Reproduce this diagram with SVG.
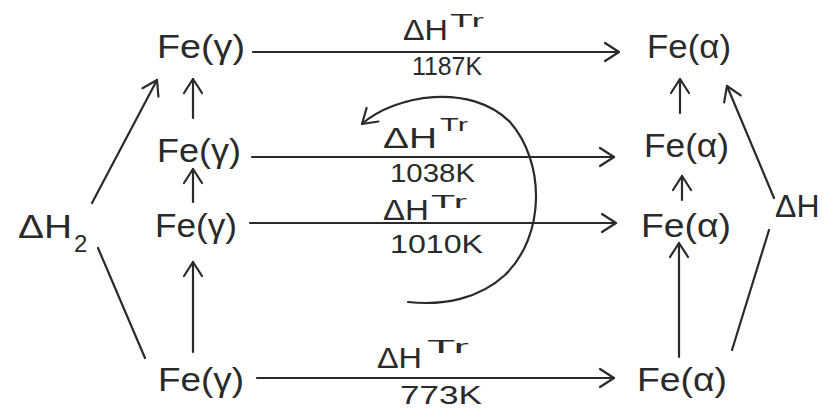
<svg xmlns="http://www.w3.org/2000/svg" width="828" height="409" viewBox="0 0 828 409">
<defs>
<marker id="ah" viewBox="-16 -11 18 22" refX="0" refY="0" markerWidth="18" markerHeight="22" markerUnits="userSpaceOnUse" orient="auto-start-reverse">
<path d="M -14 -9 L 0 0 L -14 9" fill="none" stroke="#2a2a2a" stroke-width="2.2" stroke-linecap="round" stroke-linejoin="round"/>
</marker>
<style>
.t{font-family:"Liberation Sans","DejaVu Sans",sans-serif;fill:#2a2a2a}
.sp{font-size:33px}
.dh{font-size:29px}
.sup{font-size:18px}
.k{font-size:25px}
.c{fill:none;stroke:#2a2a2a;stroke-width:2.2;stroke-linecap:round}
.a{marker-end:url(#ah)}
</style>
</defs>
<rect width="828" height="409" fill="#ffffff"/>
<g id="connectors">
<line class="c a" x1="253" y1="52" x2="619" y2="52"/>
<line class="c a" x1="252" y1="157" x2="614" y2="157"/>
<line class="c a" x1="250" y1="223" x2="616" y2="223"/>
<line class="c a" x1="257" y1="378" x2="614" y2="378"/>
<line class="c a" x1="193" y1="118" x2="193" y2="79"/>
<line class="c a" x1="193" y1="202" x2="193" y2="169"/>
<line class="c a" x1="193" y1="352" x2="193" y2="262"/>
<line class="c a" x1="680" y1="113" x2="680" y2="79"/>
<line class="c a" x1="682" y1="200" x2="682" y2="176"/>
<line class="c a" x1="679" y1="357" x2="679" y2="243"/>
<line class="c a" x1="92" y1="203" x2="157" y2="80"/>
<line class="c" x1="98" y1="248" x2="145" y2="358"/>
<line class="c a" x1="774" y1="198" x2="727" y2="86"/>
<line class="c" x1="769" y1="230" x2="732" y2="350"/>
<path class="c" style="marker-start:url(#ah)" d="M 362 124 C 395 95, 470 82, 510 122 C 545 162, 546 235, 505 275 C 480 298, 445 306, 408 302"/>
</g>
<g id="labels">
<text class="t dh" x="403" y="40" textLength="45" lengthAdjust="spacingAndGlyphs">ΔH</text>
<text class="t sup" x="450" y="27" textLength="34" lengthAdjust="spacingAndGlyphs">Tr</text>
<text class="t k" x="412" y="75" textLength="70" lengthAdjust="spacingAndGlyphs">1187K</text>
<text class="t dh" x="383" y="148" textLength="54" lengthAdjust="spacingAndGlyphs">ΔH</text>
<text class="t sup" x="440" y="131" textLength="28" lengthAdjust="spacingAndGlyphs">Tr</text>
<text class="t k" x="390" y="182" textLength="85" lengthAdjust="spacingAndGlyphs">1038K</text>
<text class="t dh" x="383" y="220" textLength="46" lengthAdjust="spacingAndGlyphs">ΔH</text>
<text class="t sup" x="431" y="208" textLength="36" lengthAdjust="spacingAndGlyphs">Tr</text>
<text class="t k" x="390" y="253" textLength="93" lengthAdjust="spacingAndGlyphs">1010K</text>
<text class="t dh" x="377" y="368" textLength="45" lengthAdjust="spacingAndGlyphs">ΔH</text>
<text class="t sup" x="427" y="353" textLength="42" lengthAdjust="spacingAndGlyphs">Tr</text>
<text class="t k" x="400" y="404" textLength="82" lengthAdjust="spacingAndGlyphs">773K</text>
<text class="t" style="font-size:34px" x="18" y="238" textLength="54" lengthAdjust="spacingAndGlyphs">ΔH</text>
<text class="t" style="font-size:24px" x="74" y="252">2</text>
<text class="t" style="font-size:32px" x="775" y="217">ΔH</text>
</g>
<g id="fe-gamma-1187"><text class="t sp" x="157" y="58" textLength="88" lengthAdjust="spacingAndGlyphs">Fe(γ)</text></g>
<g id="fe-gamma-1038"><text class="t sp" x="157" y="162" textLength="84" lengthAdjust="spacingAndGlyphs">Fe(γ)</text></g>
<g id="fe-gamma-1010"><text class="t sp" x="155" y="237" textLength="82" lengthAdjust="spacingAndGlyphs">Fe(γ)</text></g>
<g id="fe-gamma-773"><text class="t sp" x="158" y="391" textLength="86" lengthAdjust="spacingAndGlyphs">Fe(γ)</text></g>
<g id="fe-alpha-1187"><text class="t sp" x="647" y="58" textLength="84" lengthAdjust="spacingAndGlyphs">Fe(α)</text></g>
<g id="fe-alpha-1038"><text class="t sp" x="644" y="157" textLength="85" lengthAdjust="spacingAndGlyphs">Fe(α)</text></g>
<g id="fe-alpha-1010"><text class="t sp" x="641" y="237" textLength="90" lengthAdjust="spacingAndGlyphs">Fe(α)</text></g>
<g id="fe-alpha-773"><text class="t sp" x="637" y="391" textLength="90" lengthAdjust="spacingAndGlyphs">Fe(α)</text></g>
</svg>
